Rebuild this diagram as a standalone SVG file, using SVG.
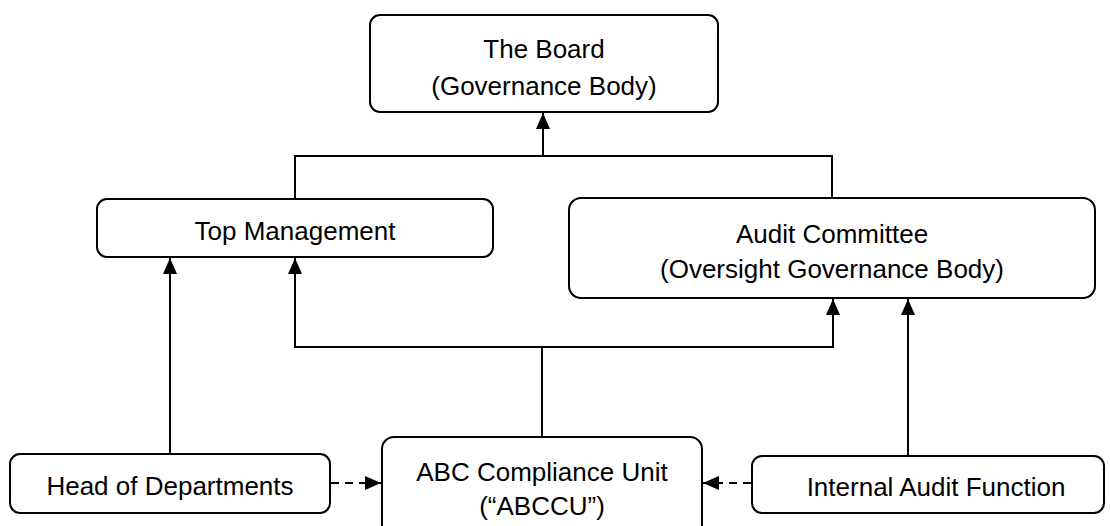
<svg xmlns="http://www.w3.org/2000/svg" width="1110" height="526" viewBox="0 0 1110 526">
  <style>
    .box { fill: #ffffff; stroke: #000000; stroke-width: 2; }
    .lbl { font-family: "Liberation Sans", Arial, sans-serif; font-size: 26px; fill: #000000; text-anchor: middle; }
    .conn { fill: none; stroke: #000000; stroke-width: 2; }
    .dash { stroke-dasharray: 8 6; }
  </style>
  <defs>
    <marker id="arrow" markerUnits="userSpaceOnUse" markerWidth="16" markerHeight="14" viewBox="0 0 16 14" refX="16" refY="7" orient="auto">
      <path d="M0,0 L16,7 L0,14 Z" fill="#000000"/>
    </marker>
  </defs>

  <g id="connectors">
    <path class="conn" d="M295,199 V156 H832 V198"/>
    <path class="conn" d="M543,156 V113" marker-end="url(#arrow)"/>
    <path class="conn" d="M542,437 V347"/>
    <path class="conn" d="M295,347 H833"/>
    <path class="conn" d="M295,348 V258" marker-end="url(#arrow)"/>
    <path class="conn" d="M833,348 V299" marker-end="url(#arrow)"/>
    <path class="conn" d="M170,454 V258" marker-end="url(#arrow)"/>
    <path class="conn" d="M908,456 V299" marker-end="url(#arrow)"/>
    <path class="conn dash" d="M331,483 H381" marker-end="url(#arrow)"/>
    <path class="conn dash" d="M751,483 H703" marker-end="url(#arrow)"/>
  </g>

  <g id="board">
    <rect class="box" x="370" y="15" width="348" height="97" rx="10"/>
    <text class="lbl" x="544" y="58">The Board</text>
    <text class="lbl" x="544" y="95">(Governance Body)</text>
  </g>

  <g id="top-management">
    <rect class="box" x="97" y="199" width="396" height="58" rx="10"/>
    <text class="lbl" x="295" y="240">Top Management</text>
  </g>

  <g id="audit-committee">
    <rect class="box" x="569" y="198" width="526" height="100" rx="12"/>
    <text class="lbl" x="832" y="243">Audit Committee</text>
    <text class="lbl" x="832" y="278">(Oversight Governance Body)</text>
  </g>

  <g id="head-of-departments">
    <rect class="box" x="10" y="454" width="320" height="59" rx="10"/>
    <text class="lbl" x="170" y="495">Head of Departments</text>
  </g>

  <g id="abccu">
    <rect class="box" x="382" y="437" width="320" height="105" rx="12"/>
    <text class="lbl" x="542" y="481">ABC Compliance Unit</text>
    <text class="lbl" x="542" y="515">(“ABCCU”)</text>
  </g>

  <g id="internal-audit-function">
    <rect class="box" x="752" y="456" width="352" height="57" rx="10"/>
    <text class="lbl" x="936" y="496">Internal Audit Function</text>
  </g>
</svg>
